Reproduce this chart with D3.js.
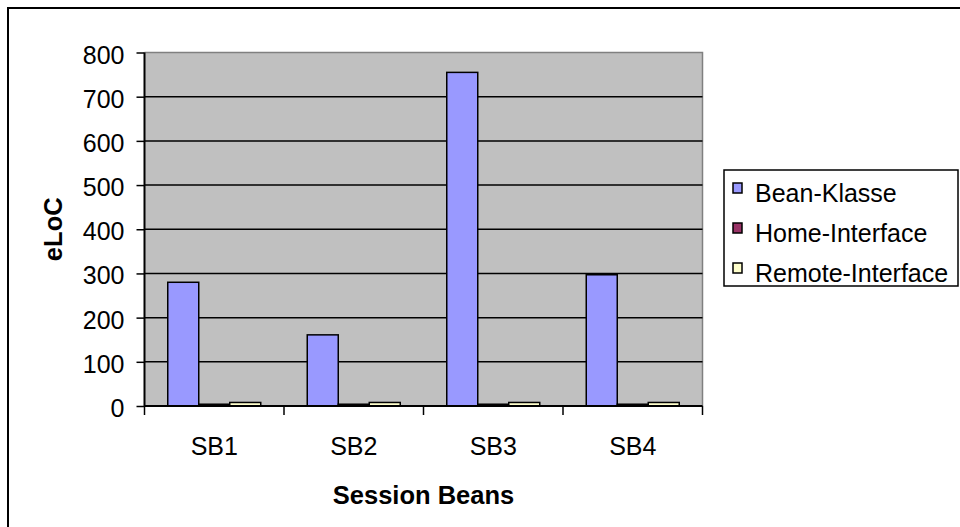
<!DOCTYPE html>
<html><head><meta charset="utf-8">
<script src="https://cdn.jsdelivr.net/npm/d3@7"></script>
<style>body{margin:0;background:#fff}text{font-family:"Liberation Sans",Arial,sans-serif}</style>
</head><body><svg id="c" width="960" height="527"></svg>
<script>
const categories = ["SB1","SB2","SB3","SB4"];
const seriesNames = ["Bean-Klasse","Home-Interface","Remote-Interface"];
const beanKlasse = [280,161,755,297];
const homeInterface = [4,4,4,4];
const remoteInterface = [8,8,8,8];
const yTicks = [0,100,200,300,400,500,600,700,800];
const colors = ["#9999ff","#993366","#ffffcc"];
const series = [beanKlasse, homeInterface, remoteInterface];
const FS = 25;

const svg = d3.select("#c");
svg.append("rect").attr("x",8).attr("y",8).attr("width",1000).attr("height",600)
  .attr("fill","#fff").attr("stroke","#000").attr("stroke-width",2);

const L=144.5, T=52.5, R=702.5, B=406;
const x0 = d3.scaleBand().domain(categories).range([L,R]).paddingInner(0).paddingOuter(0);
const x1 = d3.scaleBand().domain(d3.range(3)).range([0,x0.bandwidth()]).paddingOuter(0.75).paddingInner(0);
const y = d3.scaleLinear().domain([0,800]).range([B,T]);

svg.append("rect").attr("x",L).attr("y",T).attr("width",R-L).attr("height",B-T).attr("fill","#c0c0c0");
svg.append("path").attr("d",`M${L},${T}H${R}V${B}`).attr("fill","none").attr("stroke","#808080").attr("stroke-width",1.5);
svg.append("g").selectAll("line").data(yTicks.filter(d=>d>0&&d<800)).join("line")
  .attr("x1",L).attr("x2",R).attr("y1",d=>y(d)).attr("y2",d=>y(d)).attr("stroke","#000").attr("stroke-width",1.5);

const g = svg.append("g");
categories.forEach((c,i)=>{
  series.forEach((s,j)=>{
    g.append("rect").attr("x",x0(c)+x1(j)).attr("width",x1.bandwidth())
      .attr("y",y(s[i])).attr("height",B-y(s[i]))
      .attr("fill",colors[j]).attr("stroke","#000").attr("stroke-width",1.5);
  });
});

const ya = svg.append("g").attr("transform",`translate(${L},0)`)
  .call(d3.axisLeft(y).tickValues(yTicks).tickSize(8).tickPadding(12).tickFormat(d3.format("d")));
ya.select(".domain").attr("stroke-width",2).attr("d",`M0,${T}V${B}`);
ya.selectAll(".tick line").attr("stroke-width",1.5);
ya.selectAll("text").attr("font-size",FS).attr("fill","#000").attr("dy","0.42em").style("font-family","Liberation Sans, Arial");

const xa = svg.append("g").attr("transform",`translate(0,${B})`)
  .call(d3.axisBottom(x0).tickSize(0).tickPadding(0));
xa.select(".domain").attr("stroke-width",2).attr("d",`M${L},0H${R}`);
xa.selectAll("text").attr("font-size",FS).attr("fill","#000").attr("y",49).attr("dy",0).style("font-family","Liberation Sans, Arial");
svg.append("g").selectAll("line").data(categories.concat(["end"])).join("line")
  .attr("x1",(d,i)=>L+i*x0.bandwidth()).attr("x2",(d,i)=>L+i*x0.bandwidth())
  .attr("y1",B).attr("y2",B+9).attr("stroke","#000").attr("stroke-width",1.5);

svg.append("text").attr("x",(L+R)/2).attr("y",504).attr("text-anchor","middle")
  .attr("font-size",FS+0.5).attr("font-weight","bold").text("Session Beans");
svg.append("text").attr("transform",`translate(62,${(T+B)/2}) rotate(-90)`).attr("text-anchor","middle")
  .attr("font-size",FS+0.5).attr("font-weight","bold").text("eLoC");

const lg = svg.append("g");
lg.append("rect").attr("x",724).attr("y",170).attr("width",234).attr("height",116)
  .attr("fill","#fff").attr("stroke","#000").attr("stroke-width",1.5);
seriesNames.forEach((n,j)=>{
  const yy = 183 + j*40;
  lg.append("rect").attr("x",733).attr("y",yy).attr("width",9).attr("height",10)
    .attr("fill",colors[j]).attr("stroke","#000").attr("stroke-width",1.5);
  lg.append("text").attr("x",755).attr("y",yy+19).attr("font-size",FS).text(n);
});
</script></body></html>
